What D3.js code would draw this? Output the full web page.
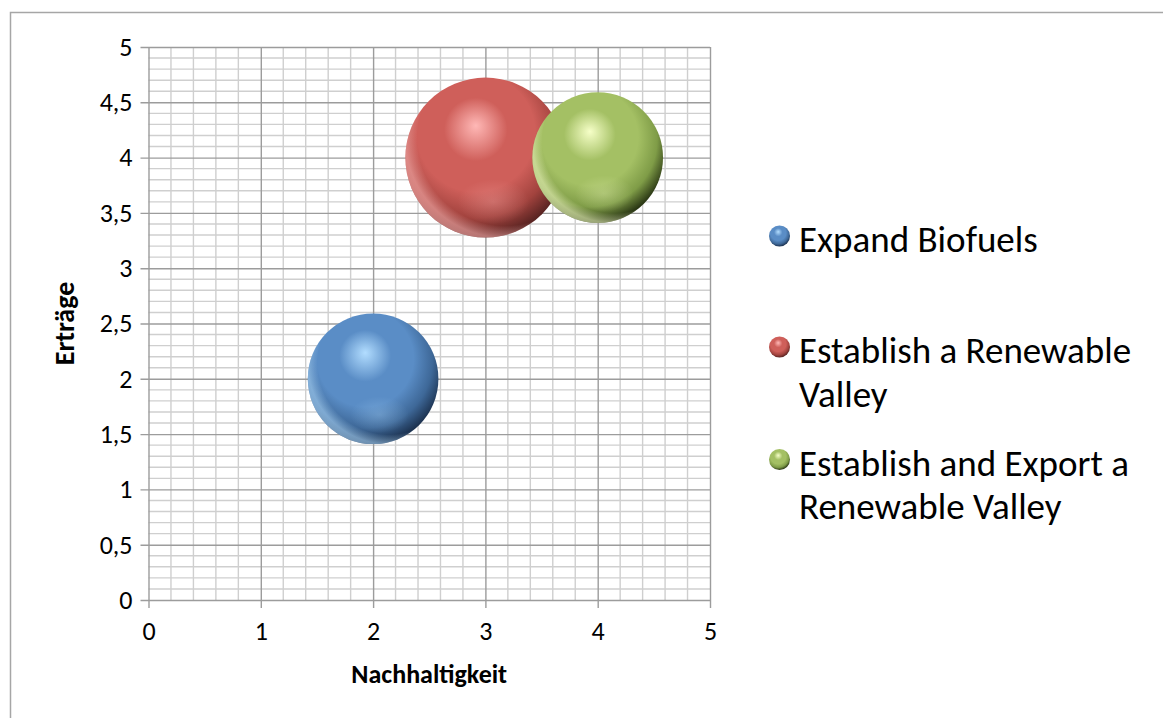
<!DOCTYPE html>
<html>
<head>
<meta charset="utf-8">
<script src="https://cdn.jsdelivr.net/npm/d3@7"></script>
<style>
  body { margin: 0; background: #fff; }
  svg { display: block; font-family: Carlito, Calibri, Lato, "Open Sans", sans-serif; }
</style>
</head>
<body>
<svg id="chart"></svg>
<script>
// chart values
var seriesNames = ["Expand Biofuels", "Establish a Renewable Valley", "Establish and Export a Renewable Valley"];
var legendLines = [["Expand Biofuels"], ["Establish a Renewable", "Valley"], ["Establish and Export a", "Renewable Valley"]];
var nachhaltigkeit = [2, 3, 4];
var ertraege = [2, 4, 4];
var bubbleSize = [2, 3, 2];
var xTicks = [0, 1, 2, 3, 4, 5];
var yTicks = [0, 0.5, 1, 1.5, 2, 2.5, 3, 3.5, 4, 4.5, 5];

var colors = [
    { base: "#5A8DC6", light: "#B2DDFF", dark: "#1C3250", mid: "#3E6898" },
    { base: "#CF5F5A", light: "#FFB8B6", dark: "#5A2422", mid: "#A2433E" },
    { base: "#A4C064", light: "#F6FFC8", dark: "#2A3714", mid: "#7F9C47" }
];

var width = 1163, height = 718;
var svg = d3.select("#chart").attr("width", width).attr("height", height);

// outer frame
svg.append("rect")
    .attr("x", 10.5).attr("y", 12.5)
    .attr("width", width + 10).attr("height", height + 10)
    .attr("fill", "none").attr("stroke", "#A6A6A6").attr("stroke-width", 1.5);

var x = d3.scaleLinear().domain([0, 5]).range([148.5, 710]);
var y = d3.scaleLinear().domain([0, 5]).range([600, 47]);
var r = d3.scaleSqrt().domain([0, d3.max(bubbleSize)]).range([0, 80]);

var defs = svg.append("defs");
colors.forEach(function (c, i) {
    var g = defs.append("radialGradient").attr("id", "sphere" + i)
        .attr("cx", 0.44).attr("cy", 0.38).attr("r", 0.66)
        .attr("fx", 0.44).attr("fy", 0.3);
    g.append("stop").attr("offset", 0).attr("stop-color", c.light);
    g.append("stop").attr("offset", 0.3).attr("stop-color", c.base);
    g.append("stop").attr("offset", 0.56).attr("stop-color", c.base);
    g.append("stop").attr("offset", 0.78).attr("stop-color", c.mid);
    g.append("stop").attr("offset", 0.95).attr("stop-color", c.dark);
    g.append("stop").attr("offset", 1).attr("stop-color", c.dark);
    // soft reflection near the bottom
    var h = defs.append("radialGradient").attr("id", "reflect" + i)
        .attr("cx", 0.5).attr("cy", 0.5).attr("r", 0.5);
    h.append("stop").attr("offset", 0).attr("stop-color", c.light).attr("stop-opacity", 0.28);
    h.append("stop").attr("offset", 1).attr("stop-color", c.light).attr("stop-opacity", 0);
    // lighter rim at the bottom left
    var rim = defs.append("radialGradient").attr("id", "rim" + i)
        .attr("cx", 0.62).attr("cy", 0.38).attr("r", 0.62);
    rim.append("stop").attr("offset", 0.88).attr("stop-color", c.light).attr("stop-opacity", 0);
    rim.append("stop").attr("offset", 1).attr("stop-color", c.light).attr("stop-opacity", 0.55);
});

// grid
var plot = svg.append("g");
plot.selectAll(".minor-x")
    .data(d3.range(0, 25).map(function (d) { return d / 5; }).filter(function (d) { return d % 1 != 0; }))
    .enter().append("line")
    .attr("x1", function (d) { return x(d); }).attr("x2", function (d) { return x(d); })
    .attr("y1", y(0)).attr("y2", y(5))
    .attr("stroke", "#CFCFCF").attr("stroke-width", 1.4);
plot.selectAll(".minor-y")
    .data(d3.range(0, 50).map(function (d) { return d / 10; }).filter(function (d) { return (d * 10) % 5 != 0; }))
    .enter().append("line")
    .attr("x1", x(0)).attr("x2", x(5))
    .attr("y1", function (d) { return y(d); }).attr("y2", function (d) { return y(d); })
    .attr("stroke", "#CFCFCF").attr("stroke-width", 1.4);

var xAxis = d3.axisBottom(x).tickValues(xTicks).tickSize(8).tickPadding(14).tickFormat(d3.format("d"));
var yAxis = d3.axisLeft(y).tickValues(yTicks).tickSize(8).tickPadding(8)
    .tickFormat(function (d) { return String(d).replace(".", ","); });

var gx = svg.append("g").attr("transform", "translate(0," + y(0) + ")").call(xAxis);
var gy = svg.append("g").attr("transform", "translate(" + x(0) + ",0)").call(yAxis);
[gx, gy].forEach(function (g) {
    g.attr("font-family", null).attr("font-size", null);
    g.select(".domain").remove();
    g.selectAll("line").attr("stroke", "#9C9C9C").attr("stroke-width", 1.4);
    g.selectAll("text").attr("fill", "#000").style("font-size", "26px");
});
gx.selectAll(".tick line").attr("y1", -(y(0) - y(5)));
gy.selectAll(".tick line").attr("x2", x(5) - x(0));
gx.selectAll(".tick line").attr("y2", 8);
gy.selectAll(".tick line").attr("x1", -8);

// bubbles
var bubbles = svg.append("g").selectAll("g")
    .data(seriesNames).enter().append("g");
bubbles.append("circle")
    .attr("cx", function (d, i) { return x(nachhaltigkeit[i]); })
    .attr("cy", function (d, i) { return y(ertraege[i]); })
    .attr("r", function (d, i) { return r(bubbleSize[i]); })
    .attr("fill", function (d, i) { return "url(#sphere" + i + ")"; });
bubbles.append("circle")
    .attr("cx", function (d, i) { return x(nachhaltigkeit[i]); })
    .attr("cy", function (d, i) { return y(ertraege[i]); })
    .attr("r", function (d, i) { return r(bubbleSize[i]); })
    .attr("fill", function (d, i) { return "url(#rim" + i + ")"; });
bubbles.append("ellipse")
    .attr("cx", function (d, i) { return x(nachhaltigkeit[i]) + r(bubbleSize[i]) * 0.1; })
    .attr("cy", function (d, i) { return y(ertraege[i]) + r(bubbleSize[i]) * 0.55; })
    .attr("rx", function (d, i) { return r(bubbleSize[i]) * 0.45; })
    .attr("ry", function (d, i) { return r(bubbleSize[i]) * 0.28; })
    .attr("fill", function (d, i) { return "url(#reflect" + i + ")"; });

// axis titles
svg.append("text")
    .attr("x", (x(0) + x(5)) / 2).attr("y", 683)
    .attr("text-anchor", "middle")
    .style("font-size", "26px").style("font-weight", "bold")
    .text("Nachhaltigkeit");
svg.append("text")
    .attr("transform", "translate(74," + (y(0) + y(5)) / 2 + ") rotate(-90)")
    .attr("text-anchor", "middle")
    .style("font-size", "28px").style("font-weight", "bold")
    .text("Erträge");

// legend
var legendY = [252, 363, 475.5];
var legend = svg.append("g").selectAll("g")
    .data(legendLines).enter().append("g");
legend.append("circle")
    .attr("cx", 779.5).attr("cy", function (d, i) { return legendY[i] - 16; })
    .attr("r", 10.5)
    .attr("fill", function (d, i) { return "url(#sphere" + i + ")"; });
legend.append("text")
    .attr("x", 799).attr("y", function (d, i) { return legendY[i]; })
    .style("font-size", "37px")
    .selectAll("tspan")
    .data(function (d) { return d; }).enter().append("tspan")
    .attr("x", 799).attr("dy", function (d, j) { return j == 0 ? 0 : 43.7; })
    .text(function (d) { return d; });
</script>
</body>
</html>
